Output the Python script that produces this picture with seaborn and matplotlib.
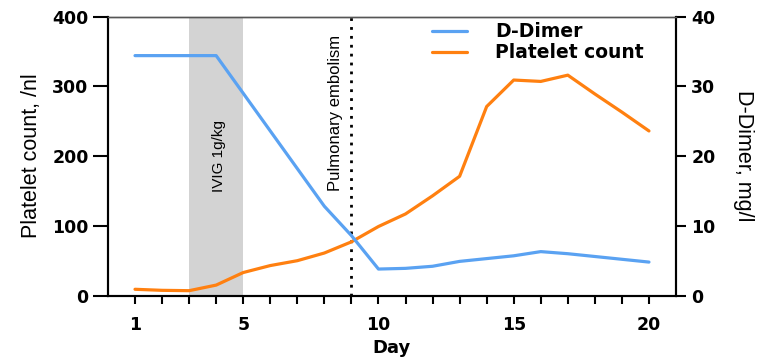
"""Platelet count and D-Dimer over time"""
import seaborn as sns
import matplotlib.pyplot as plt
import pandas as pd

days = list(range(1, 21))
platelets = [9, 7.5, 7, 15, 33, 43, 50, 61, 77, 99,
             117, 143, 171, 271, 309, 307, 316, 289, 263, 236]
d_dimer = [34.4, 34.4, 34.4, 34.4, 29.0, 23.6, 18.2, 12.8, 8.6, 3.8,
           3.9, 4.2, 4.9, 5.3, 5.7, 6.3, 6.0, 5.6, 5.2, 4.8]
ivig_days = (3, 5)
embolism_day = 9

BLUE = '#5AA2F2'
ORANGE = '#FF8010'

sns.set_style('ticks')
plt.rcParams['font.family'] = ['DejaVu Sans']
plt.rcParams['text.color'] = 'black'
plt.rcParams['xtick.color'] = 'black'
plt.rcParams['ytick.color'] = 'black'
plt.rcParams['axes.labelcolor'] = 'black'

df = pd.DataFrame({'Day': days, 'Platelet': platelets, 'DDimer': d_dimer})

fig = plt.figure(figsize=(7.63, 3.6), dpi=100)
ax = fig.add_axes([0.1415, 0.179, 0.7445, 0.775])
ax2 = ax.twinx()

ax.axvspan(*ivig_days, color='#D3D3D3', lw=0, zorder=0)
ax.axvline(embolism_day, color='black', ls=(0, (1, 2.2)), lw=2, zorder=1)

sns.lineplot(data=df, x='Day', y='Platelet', ax=ax, color=ORANGE, lw=2.3,
             label='Platelet count', legend=False, zorder=3)
sns.lineplot(data=df, x='Day', y='DDimer', ax=ax2, color=BLUE, lw=2.3,
             label='D-Dimer', legend=False, zorder=3)

narrow = ['Liberation Sans']
ax.text(4.12, 200, 'IVIG 1g/kg', rotation=90, ha='center', va='center',
        fontsize=11, family=narrow)
ax.text(8.42, 262, 'Pulmonary embolism', rotation=90, ha='center',
        va='center', fontsize=12, family=narrow)

ax.set_xlim(0, 21)
ax.set_ylim(0, 400)
ax2.set_ylim(0, 40)
ax.set_xticks([1, 5, 10, 15, 20])
ax.set_xticks(days, minor=True)
ax.set_yticks([0, 100, 200, 300, 400])
ax2.set_yticks([0, 10, 20, 30, 40])

ax.tick_params(axis='x', which='both', length=6, width=1.5, pad=9,
               labelsize=12.5)
ax.tick_params(axis='y', length=11, width=1.5, pad=3, labelsize=12.5)
ax2.tick_params(axis='y', length=7, width=1.5, pad=4, labelsize=12.5)
for lab in ax.get_xticklabels() + ax.get_yticklabels() + ax2.get_yticklabels():
    lab.set_fontweight('bold')

ax.set_xlabel('Day', fontsize=13, fontweight='bold', labelpad=3)
ax.set_ylabel('Platelet count, /nl', fontsize=15.5, family=narrow,
              labelpad=7)
ax2.set_ylabel('D-Dimer, mg/l', fontsize=15.5, family=narrow, rotation=270,
               labelpad=28)

for a in (ax, ax2):
    a.spines['top'].set_visible(True)
    a.spines['top'].set_color('#555555')
    a.spines['top'].set_linewidth(1)
    for s in ('left', 'right', 'bottom'):
        a.spines[s].set_linewidth(1.5)
        a.spines[s].set_color('black')

h2, l2 = ax2.get_legend_handles_labels()
h1, l1 = ax.get_legend_handles_labels()
leg = ax2.legend(h2 + h1, l2 + l1, loc='upper left',
                 bbox_to_anchor=(0.54, 1.04), frameon=False,
                 prop={'weight': 'bold', 'size': 13.5}, handlelength=1.9,
                 handletextpad=1.5, labelspacing=0.1)

fig.savefig('out.png', dpi=100)
plt.close(fig)
